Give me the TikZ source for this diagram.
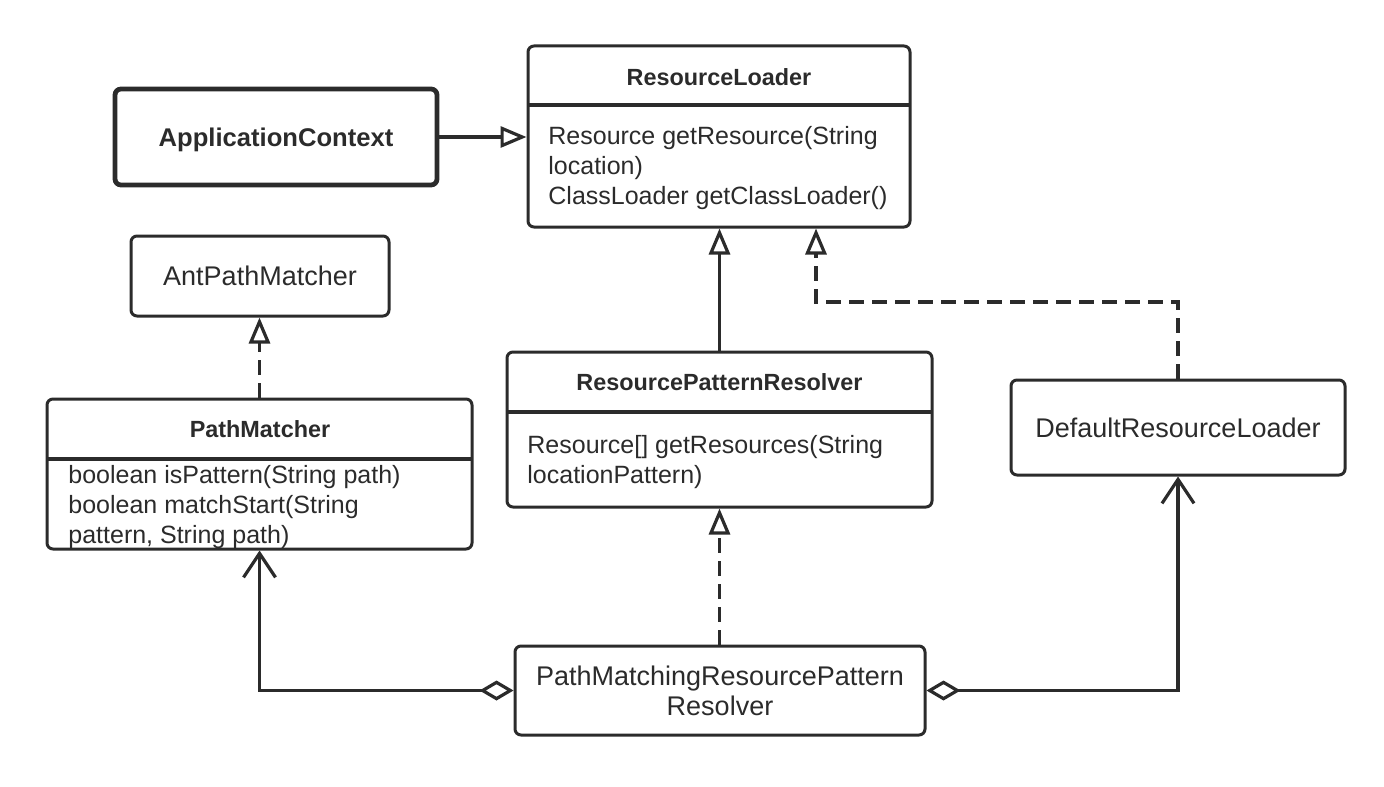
\documentclass[tikz,border=0pt]{standalone}
\usepackage{fontspec}
\setmainfont{Liberation Sans}
\usetikzlibrary{arrows.meta}

\definecolor{ink}{HTML}{2B2B2B}

\tikzset{
  cls/.style={draw=ink, line width=1.5pt, rounded corners=3pt, inner sep=0pt},
  title/.style={font=\fontsize{11.7}{14}\selectfont\bfseries, text=ink, inner sep=0pt},
  ops/.style={font=\fontsize{12.5}{15}\selectfont, text=ink, align=left, anchor=north west, inner sep=0pt},
  plain/.style={font=\fontsize{13.5}{15}\selectfont, text=ink, align=center},
  conn/.style={draw=ink, line width=1.6pt},
  realize/.style={dash pattern=on 7.5pt off 4pt},
  tri/.style={-{Triangle[open,length=13pt,width=10.5pt]}},
  agg/.style={{Diamond[open,length=17pt,width=10pt]}-{Straight Barb[length=12pt,width=16pt]}},
}

\begin{document}
\begin{tikzpicture}[x=0.5pt,y=-0.5pt]
\useasboundingbox (0,0) rectangle (1384,786);

% Kutular
\node[cls, line width=2.4pt, minimum width=161pt, minimum height=48pt,
      font=\fontsize{12.8}{15}\selectfont\bfseries, text=ink, text depth=0pt] (app) at (276,137) {ApplicationContext};

\node[cls, minimum width=191pt, minimum height=90.5pt] (loader) at (719,136.5) {};
\draw[conn] (528,105) -- (910,105);
\node[title] (loadert) at (719,77) {ResourceLoader};
\node[ops] (loaderops) at (548,126) {Resource getResource(String\\location)\\ClassLoader getClassLoader()};

\node[cls, plain, minimum width=129pt, minimum height=40pt] (antpm) at (260,276) {AntPathMatcher};

\node[cls, minimum width=212.5pt, minimum height=75pt] (pm) at (259.5,474) {};
\draw[conn] (47,459) -- (472,459);
\node[title] (pmt) at (260,429) {PathMatcher};
\node[ops] (pmops) at (68,465) {boolean isPattern(String path)\\boolean matchStart(String\\pattern, String path)};

\node[cls, minimum width=212.5pt, minimum height=77.5pt] (rpr) at (719.5,429.5) {};
\draw[conn] (507,412) -- (932,412);
\node[title] (rprt) at (719.5,382) {ResourcePatternResolver};
\node[ops] (rprops) at (527,435) {Resource[] getResources(String\\locationPattern)};

\node[cls, plain, minimum width=167pt, minimum height=47.5pt] (drl) at (1178,427.5) {DefaultResourceLoader};

\node[cls, plain, minimum width=205pt, minimum height=44.5pt] (pmrpr) at (720,690.5) {PathMatchingResourcePattern\\Resolver};

% Kalıtım ve gerçekleme
\draw[conn,tri] (app.east) -- (app.east -| loader.west);
\draw[conn,tri] (rpr.north) -- (rpr.north |- loader.south);
\coordinate (bend) at (816,302);
\draw[conn,tri,realize] (drl.north) |- (bend) -- (bend |- loader.south);
\draw[conn,tri,realize] (pm.north) -- (pm.north |- antpm.south);
\draw[conn,tri,realize] (pmrpr.north -| rpr.south) -- (rpr.south);

% Birleşim
\draw[conn,agg] (pmrpr.west) -| (pm.south);
\draw[conn,agg] (pmrpr.east) -| (drl.south);

\end{tikzpicture}
\end{document}
